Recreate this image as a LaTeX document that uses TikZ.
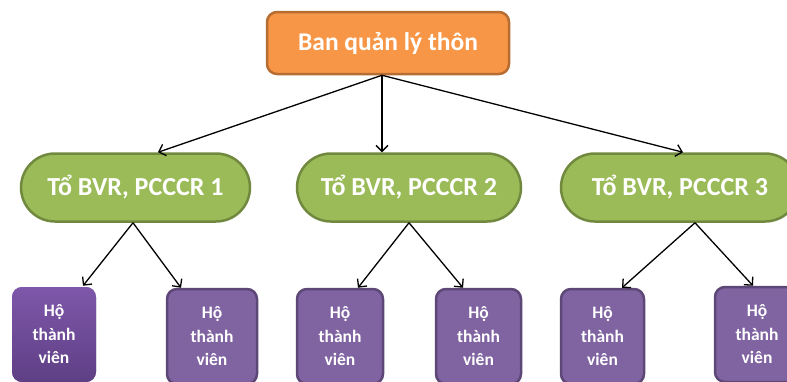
\documentclass[tikz,border=0pt]{standalone}
\usepackage{fontspec}
\setmainfont{Carlito}
\usetikzlibrary{arrows.meta}
\definecolor{orfill}{HTML}{F79646}
\definecolor{ordraw}{HTML}{B66D31}
\definecolor{grfill}{HTML}{9BBB59}
\definecolor{grdraw}{HTML}{71893F}
\definecolor{pufill}{HTML}{8064A2}
\definecolor{pudraw}{HTML}{5C4776}
\definecolor{putop}{HTML}{7E57AA}
\definecolor{pubot}{HTML}{5E3F84}
\tikzset{
  topbox/.style={draw=ordraw, fill=orfill, line width=2.5pt, rounded corners=10pt,
    minimum width=242pt, minimum height=62pt, inner sep=0pt,
    text=white, font=\fontsize{25.5}{30}\selectfont\bfseries},
  pill/.style={draw=grdraw, fill=grfill, line width=2.5pt, rounded corners=34pt,
    minimum height=68pt, inner sep=0pt,
    text=white, font=\fontsize{26}{30}\selectfont\bfseries},
  hobox/.style={draw=pudraw, fill=pufill, line width=2.5pt, rounded corners=10pt,
    minimum height=95pt, inner sep=0pt, align=center,
    text=white, font=\fontsize{17.5}{23.5}\selectfont\bfseries},
  hoboxg/.style={hobox, draw=none, top color=putop, bottom color=pubot},
  conn/.style={line width=1.3pt, -{Straight Barb[length=6pt,width=12pt]}}
}
\begin{document}
\begin{tikzpicture}[x=1pt,y=-1pt]
\useasboundingbox (0,0) rectangle (787,381);
\node[topbox] (top) at (388,43) {Ban quản lý thôn};
\node[pill, minimum width=229pt] (p1) at (135.5,187.5) {Tổ BVR, PCCCR 1};
\node[pill, minimum width=224pt] (p2) at (409,187.5) {Tổ BVR, PCCCR 2};
\node[pill, minimum width=238pt] (p3) at (680,187.5) {Tổ BVR, PCCCR 3};
\node[hoboxg, minimum width=84pt] (h1) at (54,334.5) {Hộ\\thành\\viên};
\node[hobox, minimum width=90pt] (h2) at (212,336.5) {Hộ\\thành\\viên};
\node[hobox, minimum width=86pt] (h3) at (340,336.5) {Hộ\\thành\\viên};
\node[hobox, minimum width=85pt] (h4) at (478.5,336.5) {Hộ\\thành\\viên};
\node[hobox, minimum width=83pt] (h5) at (602.5,336.5) {Hộ\\thành\\viên};
\node[hobox, minimum width=84pt] (h6) at (757,334.5) {Hộ\\thành\\viên};
\draw[conn] ([xshift=-6pt]top.south) -- ([xshift=22.5pt]p1.north);
\draw[conn] ([xshift=-6pt]top.south) -- ([xshift=-27pt]p2.north);
\draw[conn] ([xshift=-6pt]top.south) -- ([xshift=3pt]p3.north);
\draw[conn] ([xshift=-2.5pt]p1.south) -- ([xshift=29pt]h1.north);
\draw[conn] ([xshift=-2.5pt]p1.south) -- ([xshift=-31pt]h2.north);
\draw[conn] (p2.south) -- ([xshift=18pt]h3.north);
\draw[conn] (p2.south) -- ([xshift=-15.5pt]h4.north);
\draw[conn] ([xshift=15pt]p3.south) -- ([xshift=19.5pt]h5.north);
\draw[conn] ([xshift=15pt]p3.south) -- ([xshift=-4pt]h6.north);
\end{tikzpicture}
\end{document}
